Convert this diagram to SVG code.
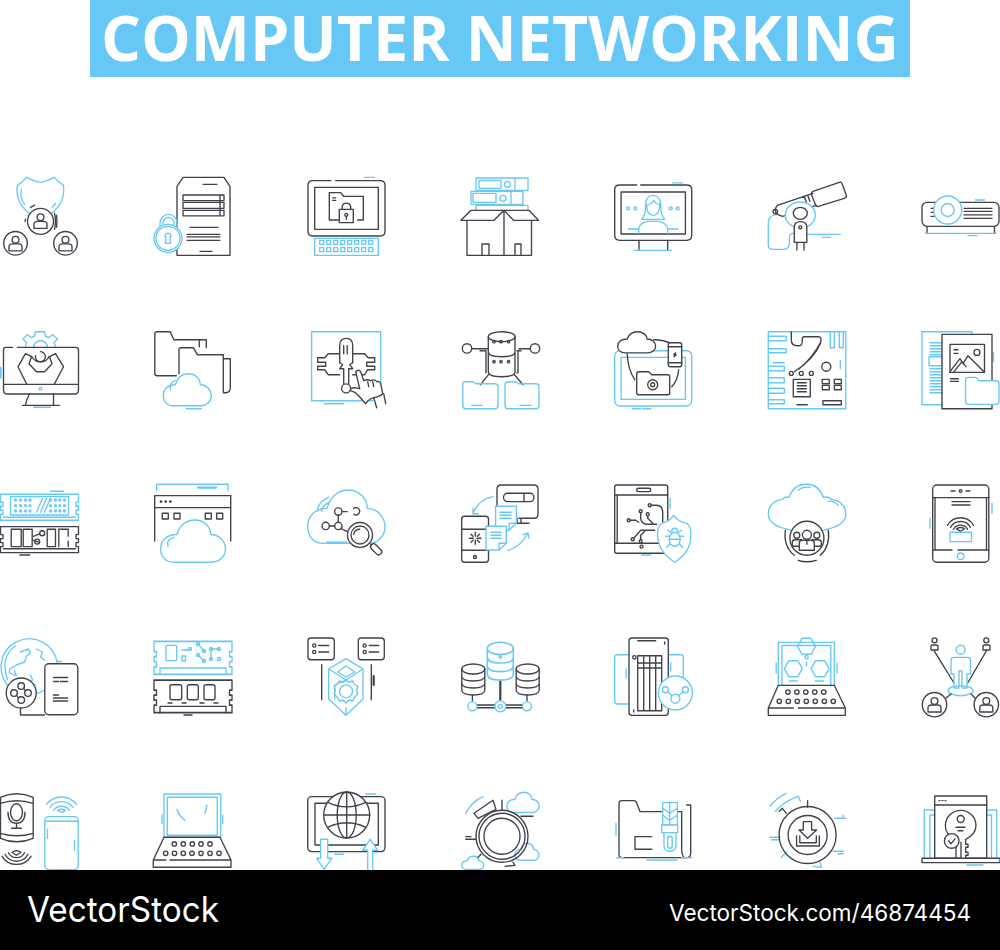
<svg xmlns="http://www.w3.org/2000/svg" width="1000" height="950" viewBox="0 0 1000 950">
<style>
.d,.b{fill:none;stroke-width:1.35;stroke-linecap:round;stroke-linejoin:round}
.d{stroke:#40414b}.b{stroke:#68c8f5}
.w{fill:#fff}
.t{stroke-width:2.2}
.n{vector-effect:non-scaling-stroke}
.title{font-family:"Open Sans","Liberation Sans",sans-serif;font-weight:700;font-size:62px;fill:#fff}
.vs{font-family:"Inter","Liberation Sans",sans-serif;fill:#fff}
</style>
<defs>
<g id="u"><circle cy="-4" r="3.4"/><path d="M-6.5 7V3Q-6.500 0-3 0H3Q6.500 0 6.500 3V7Z"/></g>
<path id="cl" class="n" d="M10 32C3 32 0 27 0 22C0 15 5 11 12 11C14 4 19 0 25 0C32 0 37 5 37 11C43 11 48 16 48 22C48 28 43 32 38 32Z"/>
<path id="brd" d="M0 0H78V8H75.500V12H78V16H75.500V20H78V26H0V20H2.500V16H0V12H2.500V8H0Z"/>
<path id="hex" d="M-9 0L-4.500-8H4.500L9 0L4.500 8H-4.500Z"/>
<g id="db"><ellipse cx="0" cy="5" rx="11.500" ry="5"/><path d="M-11.500 5V26Q-11.500 31 0 31Q11.500 31 11.500 26V5M-11.500 12Q-11.500 17 0 17Q11.500 17 11.500 12M-11.500 19Q-11.500 24 0 24Q11.500 24 11.500 19"/></g>
</defs>
<rect width="1000" height="950" fill="#fff"/>
<g id="header"><rect x="90" width="820" height="77" fill="#68c8f5"/><text class="title" x="101" y="61" textLength="798" lengthAdjust="spacingAndGlyphs">COMPUTER NETWORKING</text></g>
<g id="icons">
<g id="i11" transform="translate(.5 177.300)">
<g class="b"><path d="M30 37Q14 25 17 8Q22 5 26 0Q33 4 40 5Q47 4 54 0Q58 5 63 8Q65 25 51 36M21 12Q19 20 24 27M55 26L52 30M33 3Q36 4.500 38 4.500"/></g>
<g class="d"><circle class="w" cx="40" cy="44" r="13"/><circle class="w" cx="15" cy="66" r="11.800"/><circle class="w" cx="65" cy="66" r="11.800"/>
<use href="#u" x="40" y="44" transform="translate(0 0)"/><use href="#u" x="15" y="66.500"/><use href="#u" x="65" y="66.500"/>
<path d="M25 42L24.500 44M30 30L34 28M54 36Q56 44 54 52M56 38Q57 44 56 50"/></g></g>
<g id="i12" transform="translate(154 177.300)">
<g class="d"><path d="M23 78V9L29 0H70L76 9V78Z"/><rect x="29" y="17.700" width="41" height="5.600"/><rect x="29" y="25" width="41" height="6"/><rect x="29" y="33" width="41" height="5.500"/><path d="M66 18V38M36 50H64M33 57H66M33 59.500H66M33 63H66M49 7H63M46 74H58" /></g>
<g class="b"><path d="M6 51V46A8.500 9 0 0 1 23 46V51M9 49V46A5.500 6 0 0 1 20 46V49"/><circle class="w" cx="14" cy="61" r="14"/><circle cx="14" cy="61" r="12"/><path d="M14 56A2.600 2.600 0 0 1 16 60.500L16.500 66H11.500L12 60.500A2.600 2.600 0 0 1 14 56Z"/></g></g>
<g id="i13" transform="translate(307.700 177.300)">
<g class="d"><path d="M23 3.300H5Q.3 3.300.3 8V54Q.3 58.700 5 58.700H72.500Q77.300 58.700 77.300 54V8Q77.300 3.300 72.500 3.300H28"/><rect x="7" y="10" width="63.600" height="42"/><path d="M31 42.700H21.600V15.300H33L36 19H55.600V42.700H50M25 20.500H28M25 23H28"/><rect x="31.600" y="32" width="14" height="13.300"/><path d="M34.500 32V29.500A4.300 4.300 0 0 1 43 29.500V32"/><circle cx="38.600" cy="37.500" r="1.500"/><path d="M38.600 39V42"/></g>
<g class="b"><rect x="7" y="61" width="63.600" height="17"/><path d="M57 0H67"/><g id="keys13"><rect x="12" y="63" width="4" height="4"/><rect x="19" y="63" width="4" height="4"/><rect x="26" y="63" width="4" height="4"/><rect x="33" y="63" width="4" height="4"/><rect x="40" y="63" width="4" height="4"/><rect x="47" y="63" width="4" height="4"/><rect x="54" y="63" width="4" height="4"/><rect x="61" y="63" width="4" height="4"/></g><use href="#keys13" y="7.300"/></g></g>
<g id="i14" transform="translate(460 177.300)">
<g class="b"><rect x="16" y=".7" width="52" height="12.300"/><rect x="19" y="3" width="22" height="8"/><circle cx="47.500" cy="7" r="3"/><path d="M55 1V13"/><rect x="11" y="14" width="52" height="13"/><rect x="13" y="16" width="23" height="9"/><circle cx="43" cy="21" r="3"/><path d="M51 14V27"/><rect x="16" y="28" width="52" height="6"/><path d="M21 44H30"/></g>
<g class="d"><path class="w" d="M7 43V78H71.500V43"/><path class="w" d="M1 43L11 33H44L34 43ZM44 33H69L78.500 43H53.500Z"/><path d="M44 33V78M22 78V66.700H29V78M55 78V66.700H61V78"/></g></g>
<g id="i15" transform="translate(614.700 177.300)">
<g class="d"><path d="M22 7.700H5Q0 7.700 0 12V58Q0 63 5 63H72Q77 63 77 58V12Q77 7.700 72 7.700H26"/><rect x="6.400" y="14.700" width="64.300" height="42"/><path d="M24.300 63V72.700M53 63V72.700"/></g>
<g class="b"><path d="M19.600 73H57M58 5.500H68M27 42Q31 38 31 28Q31 18 38 18Q46 18 46 28Q46 38 50 42H27M32 28Q37 27 39 23Q41 27 45 27Q45 38 38.500 38Q32 38 32 28M24 56V52Q24 46 33 44H44Q53 46 53 52V56M13.500 51.700H23M53.500 51.700H63.500"/><circle cx="13.500" cy="31" r="1.500"/><circle cx="20.700" cy="31" r="1.500"/><circle cx="56" cy="31" r="1.500"/><circle cx="63" cy="31" r="1.500"/></g></g>
<g id="i16" transform="translate(768.300 177.300)">
<g class="b"><path d="M9 37Q0 38 0 45V68Q0 72 4 72H15Q21 72 21 66V60Q21 56 25 56H26M39 57H72M54 60H62"/></g>
<g class="d"><path d="M44.600 14L71 5Q73 4 74 7L78 18Q78.500 20 76 21L50 29Q48 30 47 27L43 17Q43 15 44.600 14Z"/><path d="M9 28L44.600 16M48 28L14.300 39M9 28Q5 33 9 37L14.300 39M36 19L38 25M39.500 18L41.500 24"/><circle cx="7" cy="34.300" r="2.300"/></g>
<g class="b"><ellipse class="w" cx="32" cy="37.700" rx="15" ry="13"/></g>
<g class="d"><ellipse cx="32" cy="36" rx="7" ry="6"/><path class="w" d="M26 65V50Q26 44.300 32 44.300Q38.500 44.300 38.500 50V65Z"/><circle cx="32" cy="50" r="1.500"/><path d="M28.600 65V72.700M35.700 65V72.700"/></g></g>
<g id="i17" transform="translate(922 177.300)">
<g class="d"><rect y="25" width="77" height="24" rx="5"/><path d="M42 31H70M42 34H70M42 37.500H70M42 41H70M9 31H12M9 35H12M9 39H12M5 49V56M72.500 49V56"/></g>
<g class="b"><circle class="w" cx="25.700" cy="32.700" r="14"/><circle cx="25.700" cy="32.700" r="6.500"/><path d="M3.500 56H74M53.500 22.700H62.500M46 58.300H55"/></g></g>

<g id="i21" transform="translate(.5 331.700)">
<g class="b"><path d="M25 15.700A15 15 0 0 1 26 11L22.500 7L27 3L31 6L34 4.500L35 0H44L45 4.500L48 6L52 3L57 7L53.500 11A15 15 0 0 1 55 15.700M33 16A7 7 0 0 1 47 16"/><path class="t" d="M0 36V46"/><path d="M33 75.500H50"/></g>
<g class="d"><path d="M12 15.700H5Q3 15.700 3 18V58Q3 62.300 7 62.300H74Q78 62.300 78 58V18Q78 15.700 75 15.700H17M3 52.700H78M29 62Q26 68 25 73M53 62V73M22 73.700H59M26 52L17.500 35L25 22L31 25L28.500 32L36 40H44L51.500 32L49 25L55 22L63 35L54 52M31.500 25A9.500 9.500 0 0 0 48.500 25M35 24A5 5 0 1 0 40 20"/></g>
<g class="b"><circle cx="40" cy="57" r="1.400"/></g></g>
<g id="i22" transform="translate(154.300 331.700)">
<g class="d"><path d="M22 44H3Q.5 44 .5 41.500V2Q.5 0 3 0H16L19.500 8H45V15M45 8H52V16M24.700 42V18Q24.700 16 27 16H39L43 23H69V60M69 27H76V56Q76 61 71 61H69"/></g>
<use class="b w" href="#cl" transform="translate(9 42)"/>
<g class="b"><path d="M16 58Q15 51 21 49M32 77H47"/></g></g>
<g id="i23" transform="translate(307.700 331.700)">
<g class="b"><path d="M65 69H3.900V0H73V62"/><path d="M17 72H36"/></g>
<g class="d"><path d="M32 22H20.500L17 26H10V30.500H18V34.500H10V38H17L20.500 43H32M45 22H57L60.500 26H67V30.500H59V34.500H67V38H60L57 43H45"/><path class="w" d="M32 31V14Q32 6.700 38.500 6.700Q45 6.700 45 14V31L42 33L45 37H41V52"/><path d="M32 31L35 33L32 37H36V52M36 14V22M39.500 14V22"/><circle cx="38.400" cy="56.700" r="4.500"/><path class="w" d="M48 40Q51 37 53 40L56 49Q60 47 63 49Q67 47 69 50Q72 49 73 52L75 62Q72 65 66 66Q60 68 58 72L51 64Q47 60 43 59Q42 56 47 56L52 57Z"/><path d="M66 66L69 76M76 62L78 72M60 50L61 55M65 50L66 55"/></g></g>
<g id="i24" transform="translate(461 331.700)">
<g class="d"><ellipse cx="40.700" cy="5" rx="13.400" ry="5"/><path d="M27.300 5V40Q27.300 45 40.700 45Q54 45 54 40V5M27.300 20Q27.300 25 40.700 25Q54 25 54 20M27.500 43L19.500 53M53.500 43L62 53"/><circle cx="33" cy="10" r="1.200"/><circle cx="40" cy="10" r="1.200"/><circle cx="47.500" cy="10" r="1.200"/><circle cx="33" cy="30" r="1.200"/><circle cx="40" cy="30" r="1.200"/><circle cx="47.500" cy="30" r="1.200"/><circle cx="6" cy="16.700" r="4.700"/><circle cx="74" cy="16.700" r="4.700"/><path d="M11 17H27M19 19H25V41M58 17H69M57 19V41H56M56 19H60"/></g>
<g class="b"><path d="M1.800 53Q1.800 50 4 50H12L15 52H34Q37 52 37 55V74Q37 77 34 77H5Q1.800 77 1.800 74ZM44 53Q44 50 47 50H55L58 52H75Q78 52 78 55V74Q78 77 75 77H47Q44 77 44 74ZM10.700 73.700H21M59 73.700H70"/></g></g>
<g id="i25" transform="translate(614.700 331.700)">
<g class="b"><rect y="19" width="77" height="55.300" rx="5"/><rect x="6.400" y="25.700" width="64.300" height="42"/><path d="M18 77H26M28 77H36"/></g>
<g class="d"><path d="M12.500 22Q13 37 20 48M39 8Q49 8 57 12M64 38Q63 49 57 55"/></g>
<use class="d w" href="#cl" transform="translate(3 0) scale(.79 .66)"/>
<g class="d"><rect class="w" x="53.600" y="11" width="13.400" height="24" rx="2"/><path d="M53.600 15H67M53.600 31H67M61 21L59 23H61.500L59.500 25"/><path class="w" d="M22 43Q22 40 24 40H34L37 43H53Q55 43 55 45V61Q55 63 53 63H24Q22 63 22 61Z"/><circle cx="38" cy="53" r="5"/><circle cx="38" cy="53" r="2"/></g></g>
<g id="i26" transform="translate(768.300 331.700)">
<g class="b"><rect width="77.500" height="77"/><path d="M0 4.500H18V9H0M0 17H18V21H0M0 34.500H16V39H0M0 46H16V51H0M0 56.500H16V61.500H0M0 68H16V72H0M62 0V16H66V0M71 0V16H75V0M5 31H16M72 29V37"/></g>
<g class="d"><path d="M23 0V8Q23 14 29 14H31Q34 14 34 9V7Q34 5 36 5H50Q54 5 52 12Q45 28 26 40M31 37Q45 25 52 11"/><circle cx="58" cy="35" r="4.500"/><circle cx="23" cy="41.700" r="2"/><circle cx="33" cy="41.700" r="2"/><circle cx="43" cy="41.700" r="2"/><rect x="25" y="47.700" width="17" height="17.300"/><path d="M29 51H38M29 54H38M29 57H38M29 60H38"/><rect x="54" y="47.700" width="7" height="4.300"/><rect x="66" y="47.700" width="7" height="4.300"/><rect x="54" y="53.700" width="7" height="4.300"/><rect x="66" y="53.700" width="7" height="4.300"/><path d="M28.600 73H39"/><rect x="54.600" y="69" width="18.400" height="4"/></g></g>
<g id="i27" transform="translate(922 331.700)">
<g class="b"><rect width="50" height="73"/><path d="M8 11H20M8 14H20M8 17H20M8 20H20M8 23H20"/><rect x="7" y="25" width="13" height="9"/><path d="M8 37H20M8 40H20M8 43H20M8 46H20M8 49H20M8 52H20M8 55H20M8 58H20M8 61H20M71.500 20.700V30"/></g>
<g class="d"><rect class="w" x="20" y="2.700" width="50" height="74.300"/><rect x="28" y="12.700" width="34.500" height="28"/><circle cx="55" cy="20.700" r="3"/><path d="M32 18H36M32 21.700H36M28 40L38 27L41 32L46 24L62 40M32 40L40 30L44 35M28.500 47H36.400M28.500 49.700H36.400"/></g>
<g class="b"><path class="w" d="M43.500 48Q43.500 45.700 46 45.700H54L57 49H74Q77 49 77 52V69Q77 72.700 74 72.700H47Q43.500 72.700 43.500 69Z"/></g></g>

<g id="i31" transform="translate(.5 484.300)">
<g class="b"><use href="#brd" y="10"/><rect x="10" y="12.300" width="58" height="18.400"/><path d="M36 28L42 14M40 28L46 14M44 28L50 14M3 33H75M50 7H63"/>
<g id="gr31"><circle cx="15" cy="15.700" r="1"/><circle cx="20" cy="15.700" r="1"/><circle cx="25" cy="15.700" r="1"/><circle cx="29.500" cy="15.700" r="1"/><circle cx="50" cy="15.700" r="1"/><circle cx="55" cy="15.700" r="1"/><circle cx="59.300" cy="15.700" r="1"/><circle cx="64" cy="15.700" r="1"/></g><use href="#gr31" y="5.600"/><use href="#gr31" y="11"/></g>
<g class="d"><use href="#brd" y="42.300"/><rect x="10.700" y="45" width="10" height="17.300"/><rect x="22.700" y="45" width="9" height="17.300"/><rect x="46.700" y="45" width="8.300" height="17.300"/><path d="M58.300 62.300V45H67.700V52M67.700 57V62.300M3 64.500H75M19.300 70.700H29.300M33 52L39 49.500M39 58L33 56"/><circle cx="41.700" cy="49" r="2.500"/><circle cx="36.700" cy="57.300" r="2.500"/></g></g>
<g id="i32" transform="translate(154 484.300)">
<g class="b"><path d="M2.700 6V0H74V6"/><path class="t" d="M44 3.300H62"/></g>
<g class="d"><path d="M.7 56.700V11.300H76.700V56.700M.7 23.300H76.700"/><circle cx="7" cy="17.300" r=".7"/><circle cx="11.700" cy="17.300" r=".7"/><circle cx="16.300" cy="17.300" r=".7"/><rect x="8.300" y="29" width="6" height="5.700"/><rect x="20" y="29" width="6" height="5.700"/><rect x="51.300" y="29" width="6" height="5.700"/><rect x="62.700" y="29" width="6" height="5.700"/></g>
<use class="b w" href="#cl" transform="translate(6.700 35.700) scale(1.350 1.320)"/>
<g class="b"><path d="M14 62Q12 55 20 53"/></g></g>
<g id="i33" transform="translate(307.700 484.300)">
<use class="b" href="#cl" transform="translate(0 5.700) scale(1.610 1.670)"/>
<g class="b"><path d="M10 27Q9 18 21 13M14 27Q14 22 21 18M19 58H39"/></g>
<g class="d"><circle cx="30.600" cy="27.300" r="3.700"/><path d="M34.300 27.300H39.500M46 24A3.700 3.700 0 1 1 46 30M30.600 31V38M27 41.700H21.500M33 44L41 48"/><circle cx="30.600" cy="41.700" r="3.700"/><circle cx="18" cy="41.700" r="3.700"/><circle class="w" cx="52.300" cy="50.700" r="12.500"/><circle cx="52.300" cy="50.700" r="9"/><path d="M46 50Q47 45 52 45M63 60L66 63"/><rect class="w" x="62" y="62" width="13" height="6" rx="3" transform="rotate(45 68.500 65)"/></g></g>
<g id="i34" transform="translate(461 484.300)">
<g class="d"><rect x=".7" y="32" width="26.800" height="46" rx="3"/><path d="M.7 45H27.500M.7 66H27.500M14.300 48V52M14.300 56V60M8.500 54H12.500M16 54H20M10 50L12 52M18.500 50L16.500 52M10 58L12 56M18.500 58L16.500 56"/><circle cx="14" cy="72.700" r="1.500"/><path d="M36 28V5Q36 .7 40 .7H73Q77 .7 77 5V30Q77 34 73 34H58M56 34V39H68M60 34V39"/><rect x="42.500" y="9" width="30.500" height="8.300" rx="4.100"/><path d="M63 9.500V17"/></g>
<g class="b"><path class="w" d="M34.600 22H55.400V39L48 46H34.600ZM55.400 39H48V46"/><path d="M39 28H50M39 31H50M39 34H50"/><path class="w" d="M25 42H45.300V59L38 65.700H25ZM45.300 59H38V65.700"/><path d="M30 48H40M30 51H40M30 54H40M32 12.300Q18 15 12 29M12 24V29.500H17.500M47 66.300Q60 62 66.800 49M62 50.500L67 48.500L68 54"/></g></g>
<g id="i35" transform="translate(614.700 484.300)">
<g class="d"><rect y=".7" width="53" height="68.300" rx="2"/><path d="M0 10.700H53M0 59H53M2.500 11V59"/><rect x="22" y="4" width="14" height="3.300" rx="1.500"/><circle cx="26.800" cy="62.300" r="1.500"/><circle cx="35" cy="21" r="1.500"/><circle cx="26" cy="27" r="1.500"/><circle cx="33" cy="30" r="1.500"/><circle cx="14" cy="36" r="1.500"/><circle cx="18" cy="55" r="1.500"/><circle cx="26" cy="57" r="1.500"/><path d="M36.500 21H41Q48 21 48 28V38M26 28.500V34Q26 38 31 40H42M33 31.500V34L38 39M15.500 36H21L24 38M19 54L26 46H40M26 55.500V51L30 47"/></g>
<g class="b"><path class="w" d="M47 39Q55 37 59 31Q63 37 72 39Q77 43 76 52Q76 68 60 78Q44 68 43 52Q42 43 47 39Z"/><ellipse cx="60" cy="55" rx="5.500" ry="7"/><path d="M54.500 55H65.500M56 48L53 46M64 48L67 46M54.500 52H51M65.500 52H69M55 60L52 63M65 60L68 63M57 47A3 3 0 0 1 63 47M55.400 14V24M27 70.700H36"/></g></g>
<g id="i36" transform="translate(768.300 484.300)">
<g class="b"><path class="w" d="M24 46Q0 42 0 30Q0 17 14 15Q17 12 21 13Q25 0 38.500 0Q50 0 55 13Q60 12 63 15Q77.500 17 77.500 30Q77.500 42 54 46"/><path d="M30 6Q34 2 42 3M60 17Q65 16 70 21"/></g>
<g class="d"><circle class="w" cx="38.600" cy="54" r="17"/><path d="M17 46Q15 62 26 71M60 46Q62 62 52 71M30 76Q38 79 48 76"/><circle cx="38.600" cy="50.500" r="4.500"/><circle cx="28.500" cy="51" r="3"/><circle cx="48.500" cy="51" r="3"/><path d="M31 66V59Q31 56 34 56H43Q46 56 46 59V66ZM31 62H24V58Q24 55.500 27 55.500H33M46 62H53V58Q53 55.500 50 55.500H44M38.600 56V60"/></g></g>
<g id="i37" transform="translate(922 484.300)">
<g class="d"><rect x="10.700" y=".7" width="56.100" height="77.300" rx="4"/><path d="M10.700 13.300H66.800M10.700 65.700H30M36 65.700H66.800M13 13.500V65.500M64.500 13.500V65.500M29 6.700H33M44 6.700H48M30 17.300H48M30 20.700H48"/><circle cx="38.600" cy="6.700" r="1.300"/><path d="M25.500 41A15 15 0 0 1 51.500 41M28.500 43A11.500 11.500 0 0 1 48.500 43M31.500 45A8 8 0 0 1 45.500 45M38.600 47L34.500 44.500Q38.600 42 42.500 44.500Z"/></g>
<g class="b"><rect x="28" y="48" width="21.500" height="9.300"/><circle cx="38.600" cy="72" r="3.300"/><path d="M7.900 34V44M70 19V29"/></g></g>

<g id="i41" transform="translate(.5 638)">
<g class="b"><path d="M56.700 25A28.200 28.200 0 1 0 10 50M34 56Q40 55 44 52M56 23.500H61M7 42Q3 30 5 22Q8 12 15 8M20 14L28 11L30 15L26 18L24 24L16 27L9 31L9 35L16 38L14 33M36 11L42 14L40 19L44 22M30 37L32 42L29 44L35 47L30 48"/></g>
<g class="d"><rect class="w" x="44.300" y="25.700" width="33" height="51" rx="4"/><path d="M53 39.500H67M53 43.500H58M60 43.500H67M53 57H58M53 60H67M53 63H67"/><path d="M20 71V77H44"/><circle class="w" cx="20.700" cy="55" r="15"/><circle cx="20.700" cy="48" r="3.300"/><circle cx="13.500" cy="55" r="3.300"/><circle cx="27.500" cy="55" r="3.300"/><circle cx="20.700" cy="62" r="3.300"/><path d="M23 50L25 53M18 60L16 57"/></g></g>
<g id="i42" transform="translate(154 638)">
<g class="b"><use href="#brd" y="2.700" transform="translate(0 0) scale(1 1.270)"/><rect x="12" y="7.300" width="10.700" height="15.300" rx="1"/><rect x="28" y="18" width="3.500" height="5"/><path d="M28 12H36M6 30H72M6 36V30M72 36V30M44 6L50 13M44 17L50 23M57 11H65M57 11V21"/><circle cx="36" cy="11" r="1.500"/><circle cx="44" cy="6" r="1.500"/><circle cx="50" cy="13" r="1.500"/><circle cx="44" cy="17" r="1.500"/><circle cx="50" cy="23" r="1.500"/><circle cx="57" cy="11" r="1.500"/><circle cx="65" cy="11" r="1.500"/><circle cx="57" cy="21" r="1.500"/><circle cx="65" cy="21" r="1.500"/></g>
<g class="d"><use href="#brd" y="42.300" transform="translate(0 -10.700) scale(1 1.250)"/><rect x="16" y="46.700" width="11.700" height="15" rx="2"/><rect x="33.300" y="46.700" width="11" height="15" rx="2"/><rect x="50" y="46.700" width="11" height="15" rx="2"/><path d="M6 75V68.300H72V75M14 65H18M28 65H32M46 65H50M60 65H64M30 77H38"/></g></g>
<g id="i43" transform="translate(307.700 638)">
<g class="d"><rect x=".3" width="26.300" height="21.700" rx="3"/><rect x="50.600" width="26" height="21.700" rx="3"/><circle cx="6.500" cy="7.500" r="1.600"/><circle cx="6.500" cy="14" r="1.600"/><circle cx="57" cy="7.500" r="1.600"/><circle cx="57" cy="14" r="1.600"/><path d="M11 7.500H21M11 14H21M61.500 7.500H71M61.500 14H71M14 26.700V61.700M63.600 26.700V61.700"/><path class="t" d="M66 38V47"/></g>
<g class="b"><path d="M38.300 20.700L55.300 31V61L38.300 77.300L21 61V31ZM21 31L38.300 42L55.300 31M38.300 28L47 34L38.300 39L30 34Z"/><path d="M38.300 42L27 47V61M38.300 70V77"/><circle cx="38.300" cy="53.300" r="6.500"/><path d="M38.300 42L41 44.500L45 43L47 46.500L50 48L49 52L50 56L47 59L45 63L41 62L38.300 65L35.500 62L31.500 63L29.500 59L26.500 56L27.500 52L26.500 48L29.500 46.500L31.500 43L35.500 44.500Z"/></g></g>
<g id="i44" transform="translate(461 638)">
<g class="d"><use href="#db" x="12.300" y="26"/><use href="#db" x="66.700" y="26"/><path d="M11.400 57V63M66 57V63M16 67H34M16 69.700H34M45 67H62M45 69.700H62"/><path class="t" d="M39.300 43V62"/></g>
<g class="b"><use href="#db" transform="translate(39.300 4.300) scale(1.130 1.220)"/><circle cx="39.300" cy="19" r="1.300"/><circle class="w" cx="11.400" cy="68.300" r="4.500"/><circle class="w" cx="39.300" cy="68.300" r="5.500"/><circle cx="39.300" cy="68.300" r="2"/><circle class="w" cx="66" cy="68.300" r="4.500"/></g></g>
<g id="i45" transform="translate(614.700 638)">
<g class="b"><path d="M14 16.700H3Q0 16.700 0 19.500V63Q0 66 3 66H14M54 16.700H66Q68.600 16.700 68.600 19.500V40M11.500 31V40M56 25V33"/></g>
<g class="d"><rect class="w" x="14.300" width="39.300" height="77.300" rx="3"/><path d="M23 2.700H41M23 17.700H47V72.700H23ZM29 17.700V72.700M35 17.700V72.700M41 17.700V72.700M23 25H47M23 30H47"/><circle cx="19.600" cy="19.300" r="1.700"/><path d="M19 72V74M50 4V6"/></g>
<g class="b"><circle class="w" cx="60.700" cy="55" r="17"/><circle cx="50.700" cy="51.700" r="3"/><circle cx="70.700" cy="51.700" r="3"/><circle cx="60.700" cy="60.700" r="4.500"/><path d="M53 53.700L57 57.500M68.500 53.700L64 57.500"/></g></g>
<g id="i46" transform="translate(768.300 638)">
<g class="b"><path d="M10 47.300V4.300H66V47.300M13.600 47.300V7.500H62.500V47.300"/><use href="#hex" x="38.200" y="8.300"/><use href="#hex" x="25" y="30.700"/><use href="#hex" x="51.800" y="30.700"/><circle cx="38.200" cy="19.300" r="1.700"/><path d="M38.200 24V28M7.900 25V35M68.900 25V35M21 43H29M47 43H55"/></g>
<g class="d"><path d="M10 47.300H66L77 70V77.300H0V70ZM0 70H25M30 70H77"/><circle cx="19.600" cy="54" r="2.200"/><circle cx="28.600" cy="54" r="2.200"/><circle cx="37.500" cy="54" r="2.200"/><circle cx="46.400" cy="54" r="2.200"/><circle cx="55.400" cy="54" r="2.200"/><circle cx="11" cy="63.300" r="2.200"/><circle cx="20" cy="63.300" r="2.200"/><circle cx="29" cy="63.300" r="2.200"/><circle cx="38" cy="63.300" r="2.200"/><circle cx="47" cy="63.300" r="2.200"/><circle cx="56" cy="63.300" r="2.200"/><circle cx="65" cy="63.300" r="2.200"/></g></g>
<g id="i47" transform="translate(922 638)">
<g class="d"><circle cx="12.500" cy="2.300" r="2.500"/><circle cx="64.300" cy="2.300" r="2.500"/><path d="M9 12V8.500Q9 7 11 7H14Q16 7 16 8.500V12ZM61 12V8.500Q61 7 63 7H66Q68 7 68 8.500V12ZM12.500 13.300L32 45M64.300 13L45.700 45"/></g>
<g class="b"><circle cx="38.600" cy="11.700" r="4.500"/><path class="w" d="M29 36V22Q29 19.300 32 19.300H45.500Q48.500 19.300 48.500 22V36H45V50H40V33H37V50H32V36Z"/><ellipse cx="38.600" cy="52.700" rx="12.500" ry="5"/></g>
<g class="d"><circle class="w" cx="12.500" cy="66.700" r="12.200"/><circle class="w" cx="64.300" cy="66.700" r="12.200"/><use href="#u" x="12.500" y="67"/><use href="#u" x="64.300" y="67"/><path d="M24 60L29 56M53 60L49 56"/></g></g>

<g id="i51" transform="translate(.5 792.300)">
<g class="d"><path d="M0 5Q16-2 32.700 5V46Q16 53 0 46ZM0 11Q16 6 32.700 11M0 41Q16 46 32.700 41"/><ellipse cx="16" cy="20" rx="6" ry="8.500"/><path d="M7.500 20Q7.500 31 16 31Q24.500 31 24.500 20M16 31V36M11 36H21M1.500 64A17 17 0 0 0 30.500 64M4.500 62A13 13 0 0 0 27.500 62M8 60.500A9 9 0 0 0 24 60.500M16 63L11.500 60Q16 57 20.500 60Z"/></g>
<g class="b"><path d="M46 12A19 19 0 0 1 76 12M49.500 15A14.500 14.500 0 0 1 72.500 15M53 18A10 10 0 0 1 69 18M61 20L57 18Q61 16 65 18Z"/><rect x="44.300" y="24.300" width="33.400" height="53" rx="4"/><path d="M47 37V46M74 48V58M44.300 29H77.700"/></g></g>
<g id="i52" transform="translate(154 792.300)">
<g class="b"><rect x="10" y="1.700" width="56.700" height="43.300"/><rect x="13.300" y="5" width="50" height="38"/><path d="M23 17Q25 24 31 28M53 13L51 21M8 23V31M68.700 23V31"/></g>
<g class="d"><path d="M10 45H66L77 67.700V75H-.7V67.700ZM-.7 67.700H12M16 67.700H77"/><circle cx="20.300" cy="51.700" r="2.200"/><circle cx="29.300" cy="51.700" r="2.200"/><circle cx="38.300" cy="51.700" r="2.200"/><circle cx="47" cy="51.700" r="2.200"/><circle cx="56" cy="51.700" r="2.200"/><circle cx="11.700" cy="61" r="2.200"/><circle cx="20.500" cy="61" r="2.200"/><circle cx="29.300" cy="61" r="2.200"/><circle cx="38" cy="61" r="2.200"/><circle cx="47" cy="61" r="2.200"/><circle cx="56" cy="61" r="2.200"/><circle cx="65" cy="61" r="2.200"/></g></g>
<g id="i53" transform="translate(307.700 792.300)">
<g class="d"><rect y="4.300" width="77.300" height="55" rx="4"/><rect x="7.300" y="11" width="63.300" height="41.700"/><circle class="w" cx="39" cy="22.700" r="23"/><ellipse cx="39" cy="22.700" rx="9.500" ry="23"/><path d="M39-.3V45.700M16 22.700H62M20 10Q39 19 58 10M20 35Q39 26 58 35"/></g>
<g class="b"><path class="w" d="M13 47H20V66H24L16.500 77L9 66H13Z"/><path class="w" d="M60 78V58H55L62.500 47L70 58H65V78"/><path d="M58 1.700H68M27 62H36"/></g></g>
<g id="i54" transform="translate(461 792.300)">
<g class="b"><path d="M4.700 21Q11 9 22 4.300"/><use href="#cl" transform="translate(46 0) scale(.67 .63)"/><use href="#cl" transform="translate(54 51) scale(.5 .53)"/><use href="#cl" transform="translate(.7 64) scale(.46 .41)"/></g>
<g class="d"><circle cx="41" cy="44" r="26"/><circle cx="41" cy="44" r="23"/><circle cx="41" cy="44" r="18"/><path d="M13 21L32 8L35 17L17 26ZM4.700 44.300H10M4.700 47H15M41 8V18M67 24H72M60 24H67M44 74L54 73L52 70M20 62L17 65"/></g></g>
<g id="i55" transform="translate(614.700 792.300)">
<g class="d"><path d="M67 19.300H25.300L21.500 9.500Q20.500 8.300 19 8.300H7.300Q4.300 8.300 4.300 11V62Q4.300 65.300 7.300 65.300H72Q76 65.300 76 61V12.700H72M67 19.300V58Q67 62 69 65M37 44.300H20.300V57H37"/></g>
<g class="b"><rect class="w" x="48" y="10.300" width="14.700" height="22.400"/><path d="M48 16L55 21L62.700 16M48 23L55 28L62.700 23M55 10.300V32"/><rect class="w" x="47" y="32.700" width="16" height="7.600"/><path class="w" d="M49.300 40.300H61.300V53Q61.300 59 55 59Q49.300 59 49.300 53Z"/><rect x="53" y="44" width="4.500" height="12" rx="2.200"/><path d="M1.300 31V43M2 65.500H9M32 67.700H62M67 65.500H77"/></g></g>
<g id="i56" transform="translate(768.300 792.300)">
<g class="b"><path d="M1.700 13.700Q8 6 17.700 1M7 19Q17 8 30 4L32 9M66.700 26H77.300M75 23V26M65 59H75M70 61.500H75M1.700 45H11.700M3 47.500H11M13 65L18 60M45 74L53 75L52 70"/></g>
<g class="d"><path d="M11 19L14 16L18 21M39.300 8.300V15"/><circle cx="39.300" cy="42.700" r="28.500"/><circle cx="39.300" cy="42.700" r="19.500"/><path d="M35 29.300H43.300V37.700H48.300L39.300 46L30.700 37.700H35ZM28.300 43.700V53.700H51V43.700M31.500 43.700V50.500H48V43.700"/></g></g>
<g id="i57" transform="translate(922 792.300)">
<g class="b"><path d="M2.300 66V17.700H12.700M8 66V22.700H12.700M74.700 66V17.700H64.700M69.500 66V22.700H64.700M44.700 72.700H61"/></g>
<g class="d"><rect x="12.700" y="3.700" width="52" height="62.300"/><path d="M12.700 12.700H64.700M17 8.300H18M20 8.300H21M23 8.300H24"/><rect y="66" width="78" height="4.300"/><path class="w" d="M34 66V47Q23 42 23.400 33.300A15.300 15.300 0 0 1 54 33.300Q54 42 43.700 47V52H46V55H43.700V60H46V63H43.700V66H39V50M39 50V66"/><circle cx="38.700" cy="26.700" r="3.500"/><path d="M34 35H43M36 38.500H41"/><circle class="w" cx="29.700" cy="48.700" r="7.300"/><path d="M26.500 48.500L29 51.500L33 46.500"/></g></g>
</g>
<g id="footer"><rect y="870" width="1000" height="80" fill="#000"/>
<text class="vs" x="27" y="921.500" font-size="35" textLength="192" lengthAdjust="spacingAndGlyphs">VectorStock</text>
<text class="vs" x="669" y="921" font-size="23" textLength="302" lengthAdjust="spacingAndGlyphs">VectorStock.com/46874454</text></g>
</svg>
